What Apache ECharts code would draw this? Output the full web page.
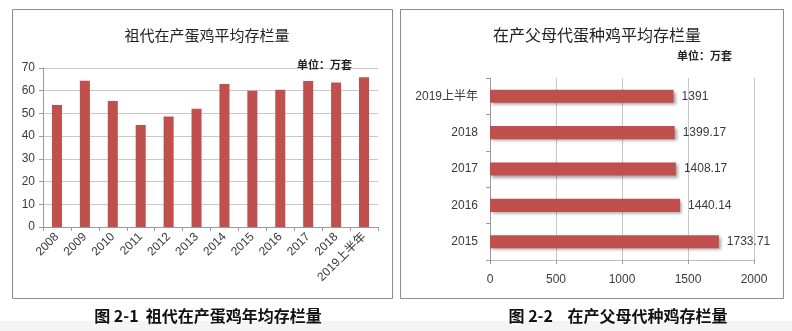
<!DOCTYPE html>
<html>
<head>
<meta charset="utf-8">
<script src="https://cdn.jsdelivr.net/npm/echarts@6/dist/echarts.min.js"></script>
<style>
  html, body { margin: 0; padding: 0; background: #ffffff; }
  #chart { width: 792px; height: 331px; }
</style>
</head>
<body>
<div id="chart"></div>
<script>
// 祖代在产蛋鸡平均存栏量（万套）
const gpYears = ['2008', '2009', '2010', '2011', '2012', '2013', '2014', '2015', '2016', '2017', '2018', '2019上半年'];
const gpValues = [53.7, 64.4, 55.5, 44.9, 48.6, 52.1, 63.0, 60.0, 60.4, 64.3, 63.6, 65.9];
const gpTicks = { min: 0, max: 70, interval: 10 };

// 在产父母代蛋种鸡平均存栏量（万套）
const ppYears = ['2015', '2016', '2017', '2018', '2019上半年'];
const ppValues = [1733.71, 1440.14, 1408.17, 1399.17, 1391];
const ppTicks = { min: 0, max: 2000, interval: 500 };

const cjk = '"Noto Sans CJK SC", sans-serif';
const latin = '"Liberation Sans", "Noto Sans CJK SC", sans-serif';
const barRed = '#c0504d';
const gridGray = '#c8c8c8';
const axisGray = '#9a9a9a';
const textDark = '#3a3a3a';

const chart = echarts.init(document.getElementById('chart'));
chart.setOption({
  animation: false,
  backgroundColor: '#ffffff',
  title: [
    { text: '祖代在产蛋鸡平均存栏量', left: 202, top: 23, textAlign: 'center',
      textStyle: { fontFamily: cjk, fontSize: 15, fontWeight: 'normal', color: '#222' } },
    { text: '单位：万套', left: 292, top: 54,
      textStyle: { fontFamily: cjk, fontSize: 11, fontWeight: 'bold', color: '#222' } },
    { text: '在产父母代蛋种鸡平均存栏量', left: 592, top: 22, textAlign: 'center',
      textStyle: { fontFamily: cjk, fontSize: 16, fontWeight: 'normal', color: '#222' } },
    { text: '单位：万套', left: 672, top: 45,
      textStyle: { fontFamily: cjk, fontSize: 11, fontWeight: 'bold', color: '#222' } },
    { text: '图 2-1  祖代在产蛋鸡年均存栏量', left: 203, top: 303, textAlign: 'center',
      textStyle: { fontFamily: cjk, fontSize: 16, fontWeight: 'bold', color: '#111' } },
    { text: '图 2-2    在产父母代种鸡存栏量', left: 613, top: 303, textAlign: 'center',
      textStyle: { fontFamily: cjk, fontSize: 16, fontWeight: 'bold', color: '#111' } }
  ],
  graphic: [
    { type: 'rect', shape: { x: 0, y: 321, width: 792, height: 10 }, style: { fill: '#f4f4f4' }, z: -10 },
    { type: 'rect', shape: { x: 12.5, y: 9.5, width: 380, height: 289 }, style: { fill: 'none', stroke: '#8c8c8c', lineWidth: 1 }, z: -5 },
    { type: 'rect', shape: { x: 400.5, y: 9.5, width: 383, height: 289 }, style: { fill: 'none', stroke: '#8c8c8c', lineWidth: 1 }, z: -5 }
  ],
  grid: [
    { left: 43, right: 414, top: 68, bottom: 104 },
    { left: 490, right: 38, top: 78, bottom: 71 }
  ],
  xAxis: [
    {
      gridIndex: 0, type: 'category', data: gpYears,
      axisLine: { lineStyle: { color: axisGray } },
      axisTick: { show: true, length: 4, lineStyle: { color: axisGray } },
      axisLabel: { rotate: 45, fontFamily: latin, fontSize: 12, color: textDark, margin: 8, interval: 0 }
    },
    {
      gridIndex: 1, type: 'value', min: ppTicks.min, max: ppTicks.max, interval: ppTicks.interval,
      axisLine: { show: true, lineStyle: { color: '#bcbcbc' } },
      axisTick: { show: true, length: 4, lineStyle: { color: axisGray } },
      splitLine: { show: true, lineStyle: { color: gridGray } },
      axisLabel: { fontFamily: latin, fontSize: 12, color: textDark, margin: 14, formatter: v => String(v) }
    }
  ],
  yAxis: [
    {
      gridIndex: 0, type: 'value', min: gpTicks.min, max: gpTicks.max, interval: gpTicks.interval,
      axisLine: { show: true, lineStyle: { color: axisGray } },
      axisTick: { show: true, length: 4, lineStyle: { color: axisGray } },
      splitLine: { show: true, lineStyle: { color: gridGray } },
      axisLabel: { fontFamily: latin, fontSize: 12, color: textDark, margin: 8 }
    },
    {
      gridIndex: 1, type: 'category', data: ppYears,
      axisLine: { show: true, lineStyle: { color: axisGray } },
      axisTick: { show: true, length: 4, lineStyle: { color: axisGray } },
      axisLabel: { fontFamily: latin, fontSize: 12, color: textDark, margin: 12 }
    }
  ],
  series: [
    {
      type: 'bar', xAxisIndex: 0, yAxisIndex: 0, data: gpValues,
      barWidth: '36%',
      itemStyle: { color: barRed }
    },
    {
      type: 'bar', xAxisIndex: 1, yAxisIndex: 1, data: ppValues,
      barWidth: '36%',
      itemStyle: {
        color: barRed,
        shadowColor: 'rgba(0,0,0,0.35)', shadowBlur: 3, shadowOffsetX: 2, shadowOffsetY: 2
      },
      label: {
        show: true, position: 'right', distance: 8,
        fontFamily: latin, fontSize: 12, color: textDark,
        formatter: p => String(p.value)
      }
    }
  ]
});
</script>
</body>
</html>
